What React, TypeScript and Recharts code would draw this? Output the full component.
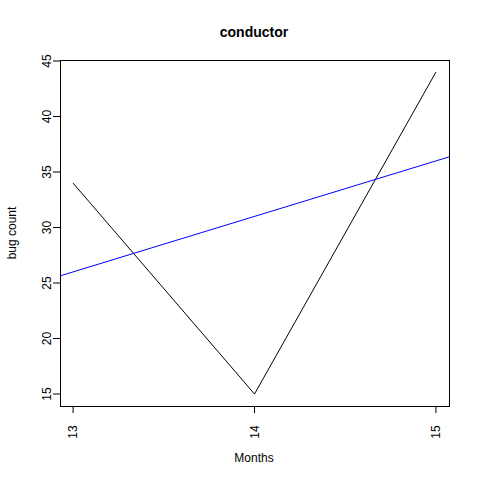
import React from "react";
import { ComposedChart, Line, XAxis, YAxis } from "recharts";

const months = [13, 14, 15];
const bugs = [34, 15, 44];
const fitX = [12.928, 15.072];
const fitY = [25.64, 36.36];
const yTicks = [15, 20, 25, 30, 35, 40, 45];

const obs = months.map((m, i) => ({ x: m, y: bugs[i] }));
const fit = fitX.map((x, i) => ({ x, y: fitY[i] }));

const font = "Liberation Sans, Arial, sans-serif";

const XTick = (p: any) => (
  <text x={p.x} y={p.y + 17} transform={`rotate(-90 ${p.x} ${p.y + 17})`} textAnchor="middle" dominantBaseline="central" fontSize={12} fontFamily={font} fill="#000">{p.payload.value}</text>
);
const YTick = (p: any) => (
  <text x={p.x - 4} y={p.y} transform={`rotate(-90 ${p.x - 4} ${p.y})`} textAnchor="middle" dominantBaseline="central" fontSize={12} fontFamily={font} fill="#000">{p.payload.value}</text>
);

export default function App() {
  return (
    <div style={{ position: "absolute", left: 0, top: 0, width: 480, height: 480, background: "#fff" }}>
      <ComposedChart width={480} height={480} margin={{ top: 60, right: 31, left: 0, bottom: 0 }}>
        <XAxis type="number" dataKey="x" domain={[12.928, 15.072]} ticks={months} height={74} tick={<XTick />} tickSize={7} tickLine={{ stroke: "#000" }} axisLine={false} allowDataOverflow />
        <YAxis type="number" dataKey="y" domain={[13.92, 45.09]} ticks={yTicks} width={60} tick={<YTick />} tickSize={7} tickLine={{ stroke: "#000" }} axisLine={false} allowDataOverflow />
        <Line data={obs} dataKey="y" stroke="#000" dot={false} isAnimationActive={false} strokeWidth={1} />
        <Line data={fit} dataKey="y" stroke="#0000ff" dot={false} isAnimationActive={false} strokeWidth={1} />
        <text x={254} y={32} textAnchor="middle" dominantBaseline="central" fontSize={14} fontWeight="bold" fontFamily={font}>conductor</text>
        <text x={254} y={458} textAnchor="middle" dominantBaseline="central" fontSize={12} fontFamily={font}>Months</text>
        <text x={12} y={233} transform="rotate(-90 12 233)" textAnchor="middle" dominantBaseline="central" fontSize={12} fontFamily={font}>bug count</text>
      </ComposedChart>
      <div style={{ position: "absolute", left: 60, top: 60, width: 388, height: 345, border: "1px solid #000", pointerEvents: "none" }} />
    </div>
  );
}
